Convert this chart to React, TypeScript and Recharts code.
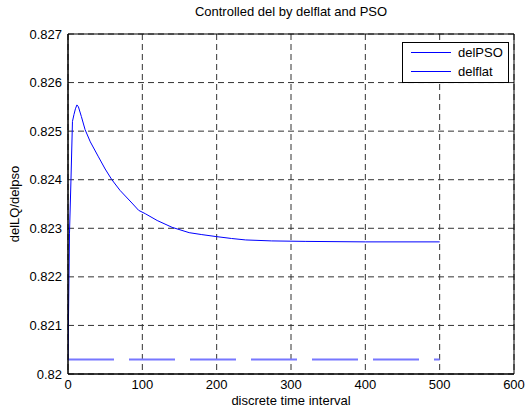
import { LineChart, Line, XAxis, YAxis, CartesianGrid, ReferenceLine } from 'recharts'

// discrete time steps where the PSO curve was read
const timeSteps = [0, 2, 4, 6, 8, 10, 12, 14, 18, 23, 30, 41, 50, 59, 70, 86, 95, 104, 120, 140, 163, 180, 199, 220, 239, 274, 320, 400, 500]
const delPSO = [
  0.8203, 0.8229, 0.824, 0.8252, 0.82534, 0.82546, 0.82554, 0.8255, 0.8253, 0.82503,
  0.82478, 0.82447, 0.82422, 0.824, 0.82378, 0.82352, 0.82337, 0.8233, 0.82316, 0.82302,
  0.82291, 0.82287, 0.82283, 0.82279, 0.82276, 0.82274, 0.82273, 0.82272, 0.82272,
]

const flatSteps = [0, 500]
const delFlat = [0.8203, 0.8203]

const xTicks = [0, 100, 200, 300, 400, 500, 600]
const yTicks = [0.82, 0.821, 0.822, 0.823, 0.824, 0.825, 0.826, 0.827]

const legendItems = ['delPSO', 'delflat']

const psoData = timeSteps.map((t, i) => ({ t, v: delPSO[i] }))
const flatData = flatSteps.map((t, i) => ({ t, v: delFlat[i] }))

const font = 'Arial, "Liberation Sans", Helvetica, sans-serif'

// MATLAB style legend box, drawn on top of the chart
function MatlabLegend() {
  return (
    <svg style={{ position: 'absolute', left: 402, top: 42 }} width={108} height={42}>
      <rect x={0.5} y={0.5} width={106} height={40} fill="#fff" stroke="#000" />
      {legendItems.map((name, i) => (
        <g key={name}>
          <line x1={9} x2={49} y1={10.5 + i * 19} y2={10.5 + i * 19} stroke="#0000ff" strokeWidth={1} shapeRendering="crispEdges" />
          <text x={56} y={15 + i * 19} fill="#000" fontSize={13} fontFamily={font}>{name}</text>
        </g>
      ))}
    </svg>
  )
}

export default function App() {
  return (
    <div style={{ position: 'absolute', left: 0, top: 0, width: 527, height: 412, background: '#fff', fontFamily: font }}>
      <div style={{ position: 'absolute', left: 0, width: 582, top: 4, textAlign: 'center', fontSize: 13, color: '#000', lineHeight: '16px' }}>
        Controlled del by delflat and PSO
      </div>
      <LineChart width={527} height={412} margin={{ top: 34, right: 13, bottom: 8, left: 8 }}>
        <CartesianGrid stroke="#333" strokeDasharray="6 4" />
        <XAxis
          dataKey="t"
          type="number"
          domain={[0, 600]}
          ticks={xTicks}
          allowDataOverflow
          height={30}
          tickLine={false}
          tickSize={5}
          tickMargin={1}
          axisLine={{ stroke: '#000', strokeWidth: 1.5 }}
          tick={{ fill: '#000', fontSize: 13, fontFamily: font }}
          label={{
            content: (p: any) => (
              <text x={p.viewBox.x + p.viewBox.width / 2} y={405} textAnchor="middle" fill="#000" fontSize={13} fontFamily={font}>
                discrete time interval
              </text>
            ),
          }}
        />
        <YAxis
          type="number"
          domain={[0.82, 0.827]}
          ticks={yTicks}
          allowDataOverflow
          width={60}
          tickLine={false}
          tickSize={5}
          tickMargin={1}
          axisLine={{ stroke: '#000', strokeWidth: 1.5 }}
          tick={{ fill: '#000', fontSize: 13, fontFamily: font }}
          tickFormatter={(v: number) => String(+v.toFixed(3))}
          label={{
            content: (p: any) => {
              const cy = p.viewBox.y + p.viewBox.height / 2
              return (
                <text x={19} y={cy} transform={`rotate(-90 19 ${cy})`} textAnchor="middle" fill="#000" fontSize={13} fontFamily={font}>
                  delLQ/delpso
                </text>
              )
            },
          }}
        />
        <ReferenceLine y={0.827} stroke="#000" strokeWidth={1} />
        <ReferenceLine x={600} stroke="#000" strokeWidth={1} />
        <Line data={flatData} dataKey="v" type="linear" stroke="#7777ff" strokeWidth={2} strokeDasharray="46 15" dot={false} isAnimationActive={false} />
        <Line data={psoData} dataKey="v" type="linear" stroke="#0000ff" strokeWidth={1} dot={false} isAnimationActive={false} />
      </LineChart>
      <MatlabLegend />
    </div>
  )
}
